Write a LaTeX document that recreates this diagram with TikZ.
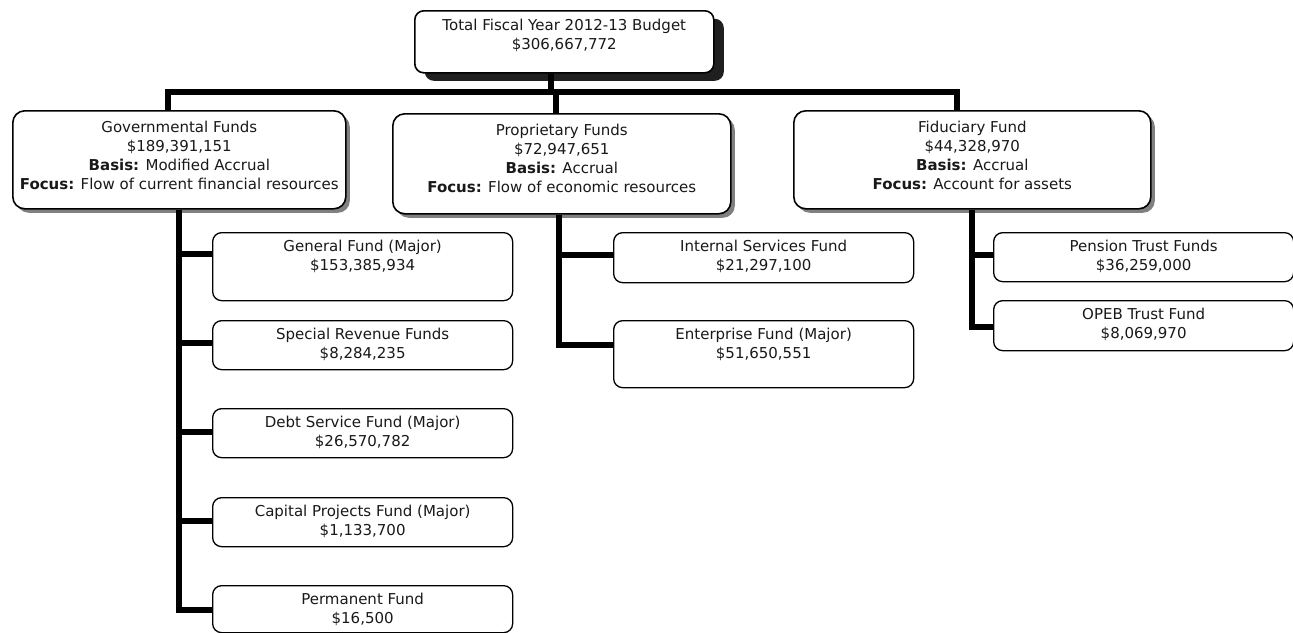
\documentclass[tikz,border=0pt]{standalone}
\usepackage{fontspec}
\setmainfont{DejaVu Sans}
\usetikzlibrary{shadows}
\newcommand\bxt[4]{\parbox[t][#2][t]{#1}{\centering\vspace*{#3}\strut #4\par}}
\begin{document}
\begin{tikzpicture}[x=1pt,y=-1pt,
  conn/.style={line width=6pt},
  lbox/.style={draw, line width=1.3pt, rounded corners=9pt, fill=white, inner sep=0pt, anchor=north west, font=\fontsize{15}{19}\selectfont, text=black!90},
  mbox/.style={lbox, rounded corners=12pt, line width=1.6pt, drop shadow={shadow xshift=4pt, shadow yshift=-4pt, fill=black!50, opacity=1}},
  tbox/.style={lbox, rounded corners=9pt, line width=1.6pt, drop shadow={shadow xshift=10pt, shadow yshift=-8pt, fill=black!88, opacity=1}}]
\useasboundingbox (0,0) rectangle (1293,632);
\fill[white] (0,0) rectangle (1293,632);
% top
\node[tbox] (top) at (414,10) {\bxt{299pt}{62pt}{6pt}{Total Fiscal Year 2012-13 Budget\\\$306,667,772}};
% mid level
\node[mbox] (gov) at (12,110) {\bxt{333pt}{98pt}{8pt}{Governmental Funds\\\$189,391,151\\\textbf{Basis:} Modified Accrual\\\textbf{Focus:} Flow of current financial resources}};
\node[mbox] (prop) at (392,113) {\bxt{338pt}{100pt}{8pt}{Proprietary Funds\\\$72,947,651\\\textbf{Basis:} Accrual\\\textbf{Focus:} Flow of economic resources}};
\node[mbox] (fid) at (793,110) {\bxt{357pt}{98pt}{8pt}{Fiduciary Fund\\\$44,328,970\\\textbf{Basis:} Accrual\\\textbf{Focus:} Account for assets}};
% leaves
\node[lbox] (gen) at (212,232) {\bxt{300pt}{68pt}{6pt}{General Fund (Major)\\\$153,385,934}};
\node[lbox] (spec) at (212,320) {\bxt{300pt}{49pt}{6pt}{Special Revenue Funds\\\$8,284,235}};
\node[lbox] (debt) at (212,408) {\bxt{300pt}{49pt}{6pt}{Debt Service Fund (Major)\\\$26,570,782}};
\node[lbox] (cap) at (212,497) {\bxt{300pt}{49pt}{6pt}{Capital Projects Fund (Major)\\\$1,133,700}};
\node[lbox] (perm) at (212,585) {\bxt{300pt}{47pt}{6pt}{Permanent Fund\\\$16,500}};
\node[lbox] (intl) at (613,232) {\bxt{300pt}{50pt}{6pt}{Internal Services Fund\\\$21,297,100}};
\node[lbox] (ent) at (613,320) {\bxt{300pt}{67pt}{6pt}{Enterprise Fund (Major)\\\$51,650,551}};
\node[lbox] (pens) at (993,232) {\bxt{300pt}{49pt}{6pt}{Pension Trust Funds\\\$36,259,000}};
\node[lbox] (opeb) at (993,300) {\bxt{300pt}{50pt}{6pt}{OPEB Trust Fund\\\$8,069,970}};
% connectors
\coordinate (bar) at (0,92);
\draw[conn] ([xshift=-13pt]top.south) -- ([xshift=-13pt]top.south |- bar);
\draw[conn] ([xshift=-11pt]gov.north) -- ([xshift=-11pt]gov.north |- bar) -- ([xshift=-15pt]fid.north |- bar) -- ([xshift=-15pt]fid.north);
\draw[conn] ([xshift=-6pt]prop.north) -- ([xshift=-6pt]prop.north |- bar);
% governmental
\draw[conn] (gov.south) |- ([yshift=-25pt]perm.north west);
\draw[conn] ([yshift=-22pt]gen.north west) -| (gov.south);
\draw[conn] ([yshift=-23pt]spec.north west) -| (gov.south);
\draw[conn] ([yshift=-24pt]debt.north west) -| (gov.south);
\draw[conn] ([yshift=-24pt]cap.north west) -| (gov.south);
% proprietary
\draw[conn] ([xshift=-3pt]prop.south) |- ([yshift=-25pt]ent.north west);
\draw[conn] ([yshift=-23pt]intl.north west) -| ([xshift=-3pt]prop.south);
% fiduciary
\draw[conn] (fid.south) |- ([yshift=-27pt]opeb.north west);
\draw[conn] ([yshift=-23pt]pens.north west) -| (fid.south);
\end{tikzpicture}
\end{document}
